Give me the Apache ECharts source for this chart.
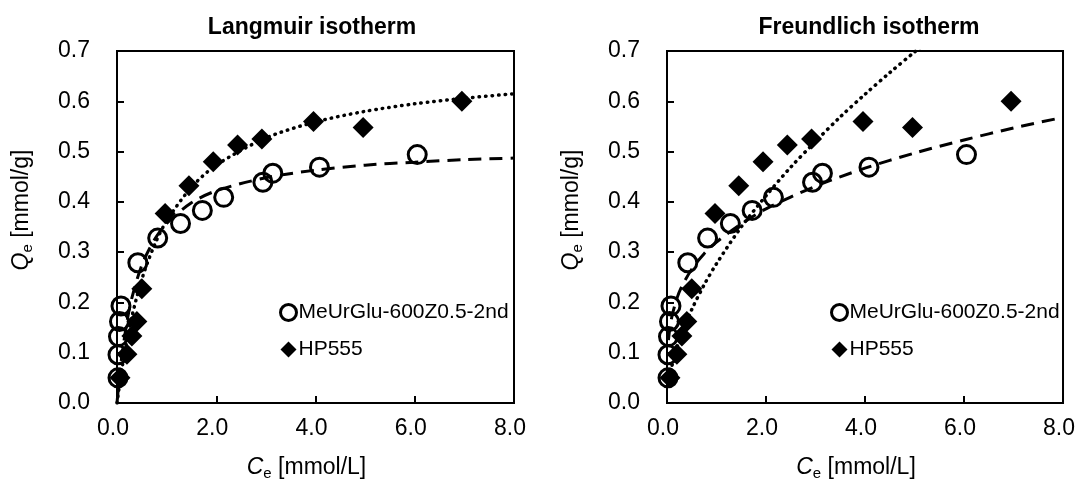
<!DOCTYPE html>
<html>
<head>
<meta charset="utf-8">
<script src="https://cdn.jsdelivr.net/npm/echarts@6/dist/echarts.min.js"></script>
<style>html,body{margin:0;padding:0;background:#fff;}#c{width:1078px;height:486px;}</style>
</head>
<body>
<div id="c"></div>
<script>
// ---- data ----
const titles = ['Langmuir isotherm', 'Freundlich isotherm'];
const nameA = 'MeUrGlu-600Z0.5-2nd';
const nameB = 'HP555';
const xTicks = [0, 2, 4, 6, 8];
const yTicks = [0, 0.1, 0.2, 0.3, 0.4, 0.5, 0.6, 0.7];

const ceA = [0.02, 0.02, 0.03, 0.05, 0.08, 0.42, 0.82, 1.28, 1.72, 2.15, 2.94, 3.14, 4.08, 6.05];
const qeA = [0.050, 0.096, 0.132, 0.162, 0.193, 0.279, 0.328, 0.357, 0.383, 0.409, 0.439, 0.457, 0.469, 0.494];
const ceB = [0.06, 0.20, 0.30, 0.40, 0.50, 0.97, 1.45, 1.94, 2.43, 2.92, 3.96, 4.96, 6.95];
const qeB = [0.050, 0.097, 0.133, 0.162, 0.227, 0.377, 0.432, 0.480, 0.513, 0.525, 0.560, 0.548, 0.600];

// fitted curves
const fitC = [0, 0.05, 0.1, 0.2, 0.3, 0.5, 0.75, 1, 1.5, 2, 3, 4, 5, 6, 7, 8];
const langA = [0, 0.053, 0.095, 0.161, 0.209, 0.274, 0.324, 0.357, 0.398, 0.422, 0.448, 0.463, 0.473, 0.479, 0.484, 0.487];
const langB = [0, 0.036, 0.069, 0.125, 0.172, 0.246, 0.313, 0.362, 0.429, 0.473, 0.527, 0.559, 0.580, 0.595, 0.606, 0.615];
const freC_A = [0.03, 0.05, 0.1, 0.2, 0.3, 0.5, 0.75, 1, 1.5, 2, 3, 4, 5, 6, 7, 8];
const freA = [0.125, 0.143, 0.172, 0.208, 0.232, 0.266, 0.297, 0.320, 0.356, 0.386, 0.431, 0.467, 0.497, 0.523, 0.547, 0.568];
const freC_B = [0.05, 0.1, 0.2, 0.3, 0.5, 0.75, 1, 1.5, 2, 2.5, 3, 3.5, 4, 4.5, 5, 5.2];
const freB = [0.050, 0.074, 0.110, 0.139, 0.186, 0.235, 0.277, 0.350, 0.412, 0.469, 0.520, 0.569, 0.614, 0.657, 0.698, 0.714];

const FONT = 'Liberation Sans, Arial, sans-serif';
const zip = (xs, ys) => xs.map((x, i) => [x, ys[i]]);

const grids = [
  {left: 117, top: 51, width: 397, height: 359},
  {left: 667, top: 51, width: 397, height: 359}
];

const richName = {
  i: {fontFamily: FONT, fontSize: 23, fontStyle: 'italic', color: '#000', lineHeight: 26},
  s: {fontFamily: FONT, fontSize: 15, color: '#000', lineHeight: 15, verticalAlign: 'bottom', padding: [10, 0, 0, 0]},
  n: {fontFamily: FONT, fontSize: 23, color: '#000', lineHeight: 26}
};

function xAxis(i) {
  return {
    gridIndex: i, type: 'value', min: 0, max: 8, interval: 2,
    name: '{i|C}{s|e}{n| [mmol/L]}', nameLocation: 'middle', nameGap: 52,
    nameTextStyle: {padding: [0, 18, 0, 0], rich: richName},
    axisLine: {show: true, lineStyle: {color: '#000', width: 2}},
    axisTick: {show: true, inside: true, length: 7, lineStyle: {color: '#000', width: 2}},
    axisLabel: {fontFamily: FONT, fontSize: 23, color: '#000', margin: 14, padding: [0, 8, 0, 0],
      formatter: v => v.toFixed(1)},
    splitLine: {show: false}
  };
}
function yAxis(i) {
  return {
    gridIndex: i, type: 'value', min: 0, max: 0.7, interval: 0.1,
    name: '{i|Q}{s|e}{n| [mmol/g]}', nameLocation: 'middle', nameGap: 82, nameRotate: 90,
    nameTextStyle: {padding: [0, 0, 0, 34], rich: richName},
    axisLine: {show: true, lineStyle: {color: '#000', width: 2}},
    axisTick: {show: true, inside: true, length: 7, lineStyle: {color: '#000', width: 2}},
    axisLabel: {fontFamily: FONT, fontSize: 23, color: '#000', margin: 27,
      formatter: v => v.toFixed(1)},
    splitLine: {show: false}
  };
}

const circleStyle = {color: 'rgba(0,0,0,0)', borderColor: '#000', borderWidth: 3, opacity: 1};
const diamondStyle = {color: '#000', opacity: 1};
const dashLine = {color: '#000', width: 3, type: [13, 8]};
const dotLine = {color: '#000', width: 3.5, type: [0.5, 6], cap: 'round'};

function scatterA(i) {
  return {name: nameA, type: 'scatter', xAxisIndex: i, yAxisIndex: i, data: zip(ceA, qeA),
    symbol: 'circle', symbolSize: 18, itemStyle: circleStyle, z: 5, silent: true};
}
function scatterB(i) {
  return {name: nameB, type: 'scatter', xAxisIndex: i, yAxisIndex: i, data: zip(ceB, qeB),
    symbol: 'diamond', symbolSize: 21, itemStyle: diamondStyle, z: 4, silent: true};
}
function line(i, xs, ys, style) {
  return {type: 'line', xAxisIndex: i, yAxisIndex: i, data: zip(xs, ys), smooth: 0.3,
    showSymbol: false, symbol: 'none', lineStyle: style, clip: true, z: 3, silent: true};
}

function legend(i, left) {
  return {
    orient: 'vertical', left: left, top: 297, itemGap: 16, itemWidth: 16, itemHeight: 16,
    textStyle: {fontFamily: FONT, fontSize: 21, color: '#000', padding: [0, 0, 0, -3]},
    data: [
      {name: nameA, icon: 'circle', itemStyle: {color: 'rgba(0,0,0,0)', borderColor: '#000', borderWidth: 3}},
      {name: nameB, icon: 'diamond', itemStyle: {color: '#000', borderWidth: 0}}
    ],
    selectedMode: false
  };
}

const option = {
  animation: false,
  backgroundColor: '#fff',
  title: [
    {text: titles[0], left: 307, top: 11, textAlign: 'center',
      textStyle: {fontFamily: FONT, fontSize: 23, fontWeight: 'bold', color: '#000'}},
    {text: titles[1], left: 864, top: 11, textAlign: 'center',
      textStyle: {fontFamily: FONT, fontSize: 23, fontWeight: 'bold', color: '#000'}}
  ],
  grid: grids.map(g => Object.assign({show: true, borderColor: '#000', borderWidth: 2, backgroundColor: 'transparent'}, g)),
  xAxis: [xAxis(0), xAxis(1)],
  yAxis: [yAxis(0), yAxis(1)],
  legend: [legend(0, 274), legend(1, 825)],
  series: [
    line(0, fitC, langA, dashLine),
    line(0, fitC, langB, dotLine),
    scatterA(0), scatterB(0),
    line(1, freC_A, freA, dashLine),
    line(1, freC_B, freB, dotLine),
    scatterA(1), scatterB(1)
  ]
};

const chart = echarts.init(document.getElementById('c'), null, {renderer: 'canvas'});
chart.setOption(option);
</script>
</body>
</html>
